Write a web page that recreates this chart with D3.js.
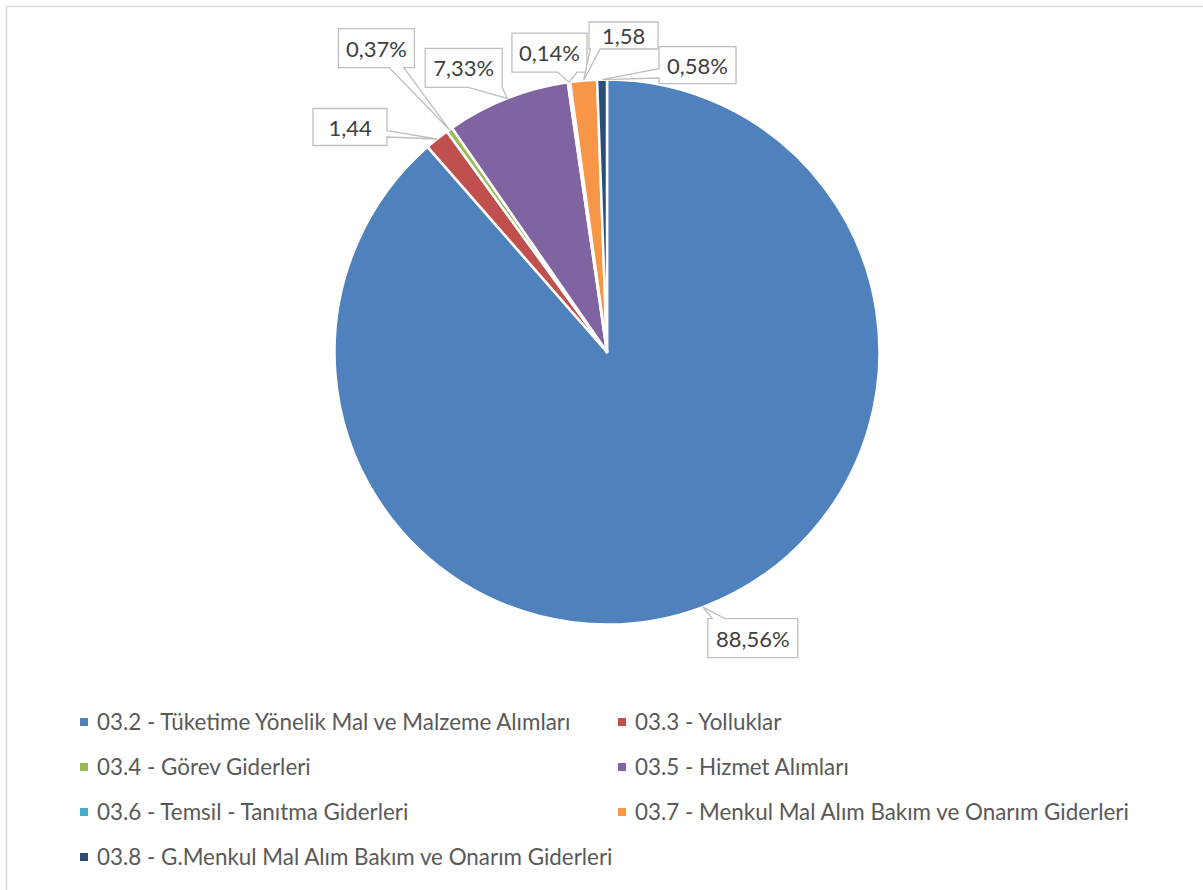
<!DOCTYPE html>
<html>
<head>
<meta charset="utf-8">
<script src="https://cdn.jsdelivr.net/npm/d3@7"></script>
<style>
  html, body { margin: 0; padding: 0; background: #fff; }
  svg { display: block; }
</style>
</head>
<body>
<svg id="chart" width="1203" height="890"></svg>
<script>
// ---- data ----
const categories = [
  "03.2 - Tüketime Yönelik Mal ve Malzeme Alımları",
  "03.3 - Yolluklar",
  "03.4 - Görev Giderleri",
  "03.5 - Hizmet Alımları",
  "03.6 - Temsil - Tanıtma Giderleri",
  "03.7 - Menkul Mal Alım Bakım ve Onarım Giderleri",
  "03.8 - G.Menkul Mal Alım Bakım ve Onarım Giderleri"
];
const values = [88.56, 1.44, 0.37, 7.33, 0.14, 1.58, 0.58];
const labelTexts = ["88,56%", "1,44", "0,37%", "7,33%", "0,14%", "1,58", "0,58%"];
const colors = ["#4F81BD", "#C0504D", "#9BBB59", "#8064A2", "#4BACC6", "#F79646", "#2C4D75"];

// label callout layout: box centre offset from slice tip, box size, wedge side, wedge base fractions
const labelLayout = [
  {dx: 50,    dy: 31,    w: 90, h: 39, side: "top",    f1: 0.05, f2: 0.19},
  {dx: -87,   dy: -12,   w: 74, h: 37, side: "right",  f1: 0.60, f2: 0.77},
  {dx: -73,   dy: -81.5, w: 76, h: 39, side: "bottom", f1: 0.67, f2: 0.86},
  {dx: -43.5, dy: -30.5, w: 77, h: 39, side: "bottom", f1: 0.56, f2: 1.00},
  {dx: -19.5, dy: -29.5, w: 75, h: 39, side: "bottom", f1: 0.61, f2: 0.87},
  {dx: 40,    dy: -45,   w: 69, h: 27, side: "bottom", f1: 0.02, f2: 0.16},
  {dx: 95.5,  dy: -14.5, w: 77, h: 37, side: "left",   f1: 0.60, f2: 0.85}
];

const svg = d3.select("#chart");
const W = 1203, H = 890;

// outer frame
svg.append("rect")
  .attr("x", 6.5).attr("y", 6.5)
  .attr("width", W).attr("height", H)
  .attr("fill", "none").attr("stroke", "#D9D9D9").attr("stroke-width", 1.5);

const cx = 607, cy = 352, R = 272.5;
const g = svg.append("g").attr("transform", `translate(${cx},${cy})`);

const pie = d3.pie().sort(null).value(d => d)
  .startAngle(0).endAngle(2 * Math.PI);
const arcs = pie(values);
const arc = d3.arc().innerRadius(0).outerRadius(R);

g.selectAll("path.slice")
  .data(arcs)
  .enter().append("path")
  .attr("class", "slice")
  .attr("d", arc)
  .attr("fill", (d, i) => colors[i])
  .attr("stroke", "#fff")
  .attr("stroke-width", 2.5)
  .attr("stroke-linejoin", "round");

// callouts
function calloutPath(b, t, side, f1, f2) {
  const {x0, y0, x1, y1} = b;
  const w = x1 - x0, h = y1 - y0;
  let p;
  if (side === "bottom") {
    p = [[x0, y0], [x1, y0], [x1, y1], [x0 + f2 * w, y1], t, [x0 + f1 * w, y1], [x0, y1]];
  } else if (side === "top") {
    p = [[x0, y0], [x0 + f1 * w, y0], t, [x0 + f2 * w, y0], [x1, y0], [x1, y1], [x0, y1]];
  } else if (side === "right") {
    p = [[x0, y0], [x1, y0], [x1, y0 + f1 * h], t, [x1, y0 + f2 * h], [x1, y1], [x0, y1]];
  } else {
    p = [[x0, y0], [x1, y0], [x1, y1], [x0, y1], [x0, y0 + f2 * h], t, [x0, y0 + f1 * h]];
  }
  return "M" + p.map(q => q[0] + "," + q[1]).join("L") + "Z";
}

const labels = g.selectAll("g.lbl")
  .data(arcs)
  .enter().append("g").attr("class", "lbl");

labels.each(function(d, i) {
  const a = (d.startAngle + d.endAngle) / 2;
  const tip = [R * Math.sin(a), -R * Math.cos(a)];
  const L = labelLayout[i];
  const bx = tip[0] + L.dx, by = tip[1] + L.dy;
  const box = {x0: bx - L.w / 2, y0: by - L.h / 2, x1: bx + L.w / 2, y1: by + L.h / 2};
  const sel = d3.select(this);
  sel.append("path")
    .attr("d", calloutPath(box, tip, L.side, L.f1, L.f2))
    .attr("fill", "#fff")
    .attr("stroke", "#BFBFBF")
    .attr("stroke-width", 1.3)
    .attr("stroke-linejoin", "miter");
  sel.append("text")
    .attr("x", bx).attr("y", by)
    .attr("text-anchor", "middle")
    .attr("dominant-baseline", "central")
    .attr("font-family", "Lato, 'Open Sans', sans-serif")
    .attr("font-size", 22)
    .attr("fill", "#404040")
    .text(labelTexts[i]);
});

// legend
const legendX = [80, 618], legendY0 = 730, legendDY = 45;
const leg = svg.append("g").attr("class", "legend");
const items = leg.selectAll("g.item")
  .data(categories)
  .enter().append("g")
  .attr("class", "item")
  .attr("transform", (d, i) => `translate(${legendX[i % 2]},${legendY0 + Math.floor(i / 2) * legendDY})`);
items.append("rect")
  .attr("x", 0).attr("y", -12).attr("width", 8).attr("height", 8)
  .attr("fill", (d, i) => colors[i]);
items.append("text")
  .attr("x", 17).attr("y", 0)
  .attr("font-family", "Lato, 'Open Sans', sans-serif")
  .attr("font-size", 22.4)
  .attr("fill", "#595959")
  .text(d => d);
</script>
</body>
</html>
